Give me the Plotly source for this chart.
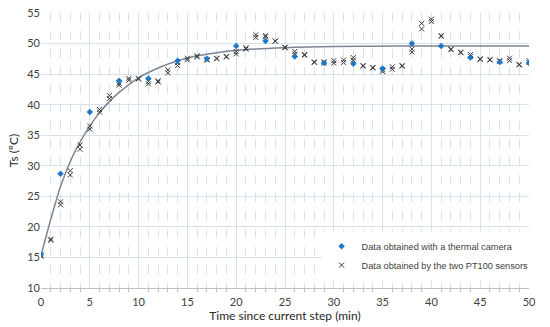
import plotly.graph_objects as go

# Thermal camera (every 3 min)
cam_t = [0, 2, 5, 8, 11, 14, 17, 20, 23, 26, 29, 32, 35, 38, 41, 44, 47, 50]
cam_T = [15.5, 28.7, 38.8, 43.9, 44.3, 47.2, 47.5, 49.6, 50.4, 47.9, 46.8, 46.7,
         45.9, 50.0, 49.6, 47.7, 47.0, 46.8]

# PT100 sensors (every minute)
pt_t = list(range(0, 51))
pt1_T = [15.4, 18.0, 24.1, 29.2, 33.4, 36.5, 39.2, 41.5, 43.5, 44.3, 44.3, 43.8,
         43.9, 45.7, 46.9, 47.6, 48.0, 47.4, 47.6, 47.9, 48.7, 49.3, 51.4, 51.3,
         50.4, 49.4, 48.7, 48.2, 47.0, 47.0, 47.2, 47.3, 47.7, 46.4, 46.1, 45.7,
         46.2, 46.4, 49.1, 53.3, 54.0, 51.3, 49.1, 48.6, 48.2, 47.5, 47.4, 47.2,
         47.6, 46.6, 47.2]
pt2_T = [15.2, 17.8, 23.6, 28.5, 32.7, 36.0, 38.8, 41.0, 43.2, 44.0, 44.2, 43.4,
         43.7, 45.2, 46.4, 47.3, 47.8, 47.3, 47.5, 47.8, 48.3, 49.1, 51.0, 51.1,
         50.4, 49.3, 48.3, 48.1, 46.9, 46.8, 46.8, 46.9, 47.3, 46.3, 46.0, 45.4,
         45.8, 46.3, 48.6, 52.4, 53.6, 51.2, 49.0, 48.5, 47.9, 47.4, 47.3, 47.1,
         47.2, 46.5, 46.9]

# Fitted trend curve
fit_t = [0, 1, 2, 3, 4, 5, 6, 7, 8, 10, 12, 14, 16, 18, 20, 25, 30, 40, 50]
fit_T = [15.3, 21.2, 26.6, 30.7, 33.9, 36.5, 38.7, 40.5, 42.0, 44.4, 46.0, 47.2,
         48.0, 48.5, 48.9, 49.3, 49.5, 49.6, 49.6]

fig = go.Figure()

fig.add_trace(go.Scatter(
    x=fit_t, y=fit_T, mode="lines", line=dict(color="#7d8493", width=1.5, shape="spline"),
    showlegend=False, hoverinfo="skip"))

fig.add_trace(go.Scatter(
    x=pt_t + pt_t, y=pt1_T + pt2_T, mode="markers",
    marker=dict(symbol="x-thin-open", size=5, color="#3a3a3a",
                line=dict(color="#3a3a3a", width=1)),
    name="Data obtained by the two PT100 sensors"))

fig.add_trace(go.Scatter(
    x=cam_t, y=cam_T, mode="markers",
    marker=dict(symbol="diamond", size=5, color="#1f77c9"),
    name="Data obtained with a thermal camera"))

grid_c = "#d6e1ee"
fig.update_xaxes(
    range=[0, 50], dtick=5, tick0=0, showgrid=True, gridcolor=grid_c, gridwidth=1,
    showline=True, linecolor="#bfbfbf", linewidth=1, zeroline=False, automargin=False,
    ticks="", ticklabelstandoff=4, ticklabeloverflow="allow",
    tickfont=dict(family="Lato", size=11, color="#404040"),
    minor=dict(dtick=1, showgrid=True, gridcolor=grid_c, griddash="dash", gridwidth=1,
               ticks="outside", ticklen=3, tickcolor="#bfbfbf"),
    title=dict(text="Time since current step (min)", font=dict(family="Lato", size=12, color="#262626"),
               standoff=4))
fig.update_yaxes(
    range=[10, 55], dtick=5, tick0=10, showgrid=True, gridcolor=grid_c, gridwidth=1,
    showline=False, zeroline=False, ticks="", automargin=False, ticklabeloverflow="allow",
    tickfont=dict(family="Lato", size=11, color="#404040"),
    title=dict(text="Ts (ºC)", font=dict(family="Lato", size=12, color="#262626"), standoff=6))

fig.update_layout(
    width=550, height=327, margin=dict(l=41, r=21, t=13, b=39, autoexpand=False),
    paper_bgcolor="white", plot_bgcolor="white",
    legend=dict(x=0.575, y=0.205, xanchor="left", yanchor="top", bgcolor="white",
                font=dict(family="Liberation Sans", size=9.2, color="#404040"),
                traceorder="reversed", itemwidth=30, tracegroupgap=0),
    showlegend=True)

# remove the browser's default 8px body margin so the figure fills the window
fig.write_html("out.html", config={"displayModeBar": False},
               post_script="document.body.style.margin='0';")
